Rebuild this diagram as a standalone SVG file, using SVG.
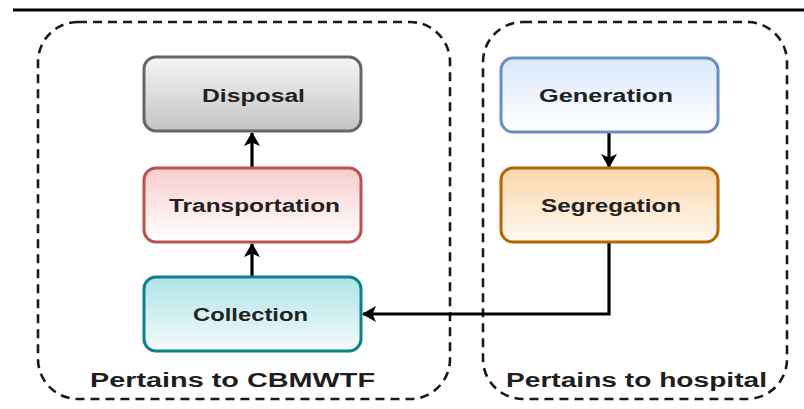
<svg xmlns="http://www.w3.org/2000/svg" width="804" height="409" viewBox="0 0 804 409">
  <style>
    .container { fill: none; stroke: #1a1a1a; stroke-width: 2.6; stroke-dasharray: 9 6; }
    .node rect { stroke-width: 3; }
    .nlabel { font-family: "Liberation Sans", Arial, sans-serif; font-weight: bold; font-size: 18px; fill: #222222; }
    .clabel { font-family: "Liberation Sans", Arial, sans-serif; font-weight: bold; font-size: 20px; fill: #1e1e1e; }
    .edge { fill: none; stroke: #000; stroke-width: 3.2; marker-end: url(#arrow); }
  </style>
  <defs>
    <marker id="arrow" viewBox="0 0 14 16" refX="13" refY="8" markerWidth="14" markerHeight="16" markerUnits="userSpaceOnUse" orient="auto">
      <path d="M0,0 L14,8 L0,16 L3.5,8 Z" fill="#000"/>
    </marker>
    <linearGradient id="gGray" x1="0" y1="0" x2="0" y2="1">
      <stop offset="0" stop-color="#f5f5f5"/>
      <stop offset="1" stop-color="#c4c4c4"/>
    </linearGradient>
    <linearGradient id="gRed" x1="0" y1="0" x2="0" y2="1">
      <stop offset="0" stop-color="#f8cecc"/>
      <stop offset="1" stop-color="#ffffff"/>
    </linearGradient>
    <linearGradient id="gTeal" x1="0" y1="0" x2="0" y2="1">
      <stop offset="0" stop-color="#b0e3e6"/>
      <stop offset="1" stop-color="#f4fbfc"/>
    </linearGradient>
    <linearGradient id="gBlue" x1="0" y1="0" x2="0" y2="1">
      <stop offset="0" stop-color="#dae8fc"/>
      <stop offset="1" stop-color="#ffffff"/>
    </linearGradient>
    <linearGradient id="gOrange" x1="0" y1="0" x2="0" y2="1">
      <stop offset="0" stop-color="#fad7ac"/>
      <stop offset="1" stop-color="#fff8f0"/>
    </linearGradient>
  </defs>
  <rect width="804" height="409" fill="#ffffff"/>
  <line x1="13" y1="10" x2="804" y2="10" stroke="#000" stroke-width="3"/>

  <g id="container-cbmwtf">
    <rect class="container" x="38" y="22" width="412" height="377" rx="40" ry="40"/>
    <text class="clabel" x="90" y="387" textLength="285" lengthAdjust="spacingAndGlyphs">Pertains to CBMWTF</text>
  </g>
  <g id="container-hospital">
    <rect class="container" x="483" y="22" width="304" height="377" rx="40" ry="40"/>
    <text class="clabel" x="506" y="387" textLength="261" lengthAdjust="spacingAndGlyphs">Pertains to hospital</text>
  </g>

  <g id="connectors">
    <path class="edge" d="M252,168 L252,133"/>
    <path class="edge" d="M252,277 L252,244"/>
    <path class="edge" d="M609,132 L609,167"/>
    <path class="edge" d="M609,243 L609,314 L363,314"/>
  </g>

  <g id="disposal" class="node">
    <rect x="144" y="57" width="217" height="74" rx="12" ry="12" fill="url(#gGray)" stroke="#666666"/>
    <text class="nlabel" x="202" y="102" textLength="103" lengthAdjust="spacingAndGlyphs">Disposal</text>
  </g>
  <g id="transportation" class="node">
    <rect x="144" y="168" width="217" height="74" rx="12" ry="12" fill="url(#gRed)" stroke="#b85450"/>
    <text class="nlabel" x="169" y="212" textLength="171" lengthAdjust="spacingAndGlyphs">Transportation</text>
  </g>
  <g id="collection" class="node">
    <rect x="144" y="277" width="217" height="74" rx="12" ry="12" fill="url(#gTeal)" stroke="#0e8088"/>
    <text class="nlabel" x="193" y="321" textLength="115" lengthAdjust="spacingAndGlyphs">Collection</text>
  </g>
  <g id="generation" class="node">
    <rect x="501" y="58" width="217" height="74" rx="12" ry="12" fill="url(#gBlue)" stroke="#6c8ebf"/>
    <text class="nlabel" x="539" y="102" textLength="134" lengthAdjust="spacingAndGlyphs">Generation</text>
  </g>
  <g id="segregation" class="node">
    <rect x="501" y="168" width="217" height="74" rx="12" ry="12" fill="url(#gOrange)" stroke="#b46504"/>
    <text class="nlabel" x="541" y="212" textLength="140" lengthAdjust="spacingAndGlyphs">Segregation</text>
  </g>
</svg>
